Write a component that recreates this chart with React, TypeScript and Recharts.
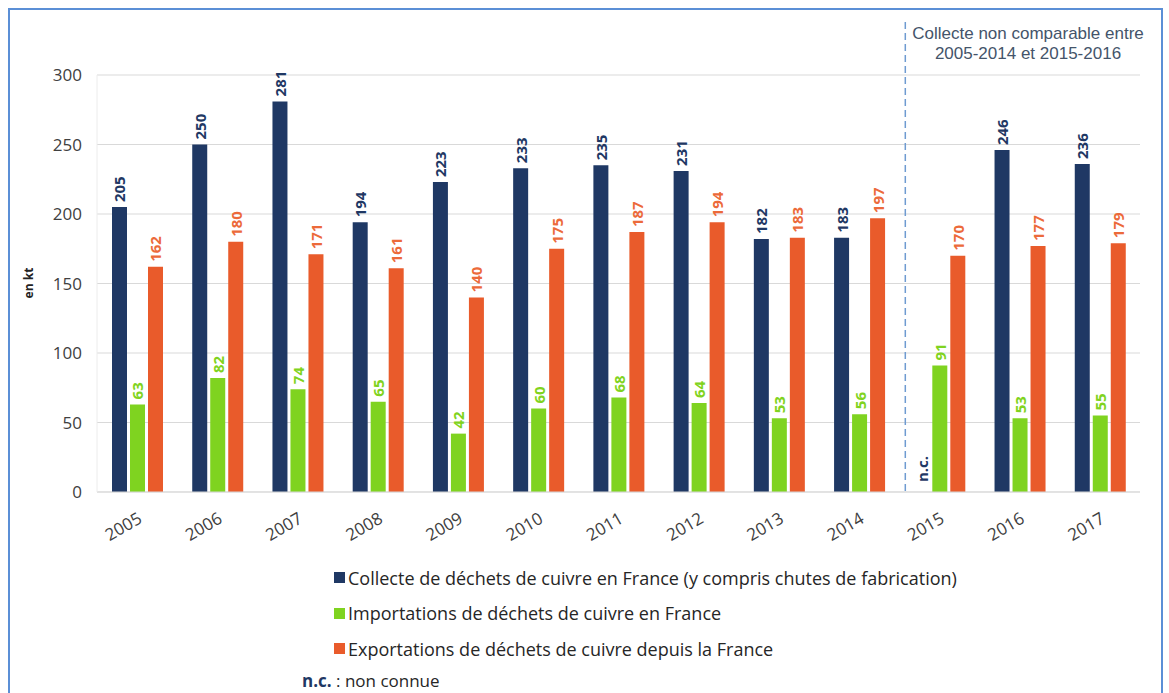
import {
  Bar,
  BarChart,
  CartesianGrid,
  LabelList,
  ReferenceLine,
  XAxis,
  YAxis,
} from 'recharts'

const years = ['2005', '2006', '2007', '2008', '2009', '2010', '2011', '2012', '2013', '2014', '2015', '2016', '2017']
const collecte = [205, 250, 281, 194, 223, 233, 235, 231, 182, 183, null, 246, 236]
const importations = [63, 82, 74, 65, 42, 60, 68, 64, 53, 56, 91, 53, 55]
const exportations = [162, 180, 171, 161, 140, 175, 187, 194, 183, 197, 170, 177, 179]
const yTicks = [0, 50, 100, 150, 200, 250, 300]

const series = [
  { key: 'collecte', name: 'Collecte de déchets de cuivre en France (y compris chutes de fabrication)', color: '#1f3864', label: '#1f3864' },
  { key: 'importations', name: 'Importations de déchets de cuivre en France', color: '#7fd320', label: '#7fd320' },
  { key: 'exportations', name: 'Exportations de déchets de cuivre depuis la France', color: '#e95b2b', label: '#ec6a3a' },
]

const data = years.map((year, i) => ({
  year,
  collecte: collecte[i],
  importations: importations[i],
  exportations: exportations[i],
}))

const FONT = '"Open Sans", "Noto Sans", sans-serif'
const BAR = 15
const GAP = 3

function makeLabel(color: string) {
  return function BarLabel(props: any) {
    const { x, y, width, value } = props
    if (value == null) return null
    const cx = Number(x) + Number(width) / 2
    const ty = Number(y) - 5
    return (
      <text
        x={cx}
        y={ty}
        transform={`rotate(-90 ${cx} ${ty})`}
        textAnchor="start"
        dominantBaseline="central"
        fill={color}
        fontSize={15}
        fontWeight={700}
        fontFamily={FONT}
      >
        {value}
      </text>
    )
  }
}

// "n.c." marker for the missing collecte value, drawn in the navy bar's slot
// (left neighbour of the green bar)
function NotKnownLabel(props: any) {
  const { x, y, width, height, value } = props
  if (value != null) return null
  const cx = Number(x) - GAP - BAR / 2
  const ty = Number(y) + Number(height) - 10
  return (
    <text
      x={cx}
      y={ty}
      transform={`rotate(-90 ${cx} ${ty})`}
      textAnchor="start"
      dominantBaseline="central"
      fill="#1f3864"
      fontSize={15}
      fontWeight={700}
      fontFamily={FONT}
    >
      n.c.
    </text>
  )
}

function YearTick({ x, y, payload }: any) {
  return (
    <text
      transform={`translate(${x + 6},${y + 22}) rotate(-30)`}
      textAnchor="end"
      fontSize={17}
      fill="#404040"
      fontFamily={FONT}
    >
      {payload.value}
    </text>
  )
}

function DashedDivider(props: any) {
  const { x1, y1, y2 } = props
  const bottom = Math.max(Number(y1), Number(y2))
  return <line x1={x1 + 6} x2={x1 + 6} y1={22} y2={bottom} stroke="#6f9bd1" strokeWidth={1.5} strokeDasharray="7 4" />
}

export default function App() {
  return (
    <div style={{ position: 'absolute', left: 0, top: 0, width: 1169, height: 693, background: '#fff', overflow: 'hidden' }}>
      <div
        style={{
          position: 'absolute',
          left: 8,
          top: 8,
          width: 1155,
          height: 720,
          border: '2px solid #5b8fd6',
          boxSizing: 'border-box',
        }}
      />
      <BarChart
        width={1169}
        height={693}
        data={data}
        margin={{ top: 75, right: 29, left: 0, bottom: 161 }}
        barSize={BAR}
        barGap={GAP}
        style={{ position: 'absolute', left: 0, top: 0 }}
      >
        <CartesianGrid vertical={false} stroke="#d9d9d9" />
        <XAxis
          dataKey="year"
          height={40}
          tick={<YearTick />}
          tickLine={false}
          axisLine={{ stroke: '#d9d9d9' }}
          interval={0}
        />
        <YAxis
          width={97}
          domain={[0, 300]}
          ticks={yTicks}
          tickLine={false}
          axisLine={{ stroke: '#ececec' }}
          tickMargin={9}
          tick={{ fontSize: 17, fill: '#404040', fontFamily: FONT }}
        />
        <ReferenceLine x="2015" position="start" shape={<DashedDivider />} ifOverflow="visible" />
        {series.map((s) => (
          <Bar key={s.key} dataKey={s.key} name={s.name} fill={s.color} isAnimationActive={false}>
            <LabelList dataKey={s.key} content={makeLabel(s.label)} />
            {s.key === 'importations' ? <LabelList dataKey="collecte" content={NotKnownLabel} /> : null}
          </Bar>
        ))}
        <text
          x={33}
          y={283}
          transform="rotate(-90 33 283)"
          textAnchor="middle"
          fontSize={12}
          fontWeight={700}
          fill="#222"
          fontFamily={FONT}
        >
          en kt
        </text>
        <text x={1028} y={39} textAnchor="middle" fontSize={17} fill="#44546a" fontFamily='"Liberation Sans", Arial, sans-serif'>
          Collecte non comparable entre
        </text>
        <text x={1028} y={59} textAnchor="middle" fontSize={17} fill="#44546a" fontFamily='"Liberation Sans", Arial, sans-serif'>
          2005-2014 et 2015-2016
        </text>
      </BarChart>
      <div style={{ position: 'absolute', left: 334, top: 560, fontFamily: FONT, fontSize: 18, color: '#262626' }}>
        {series.map((s) => (
          <div key={s.key} style={{ display: 'flex', alignItems: 'center', height: 35.5, whiteSpace: 'nowrap' }}>
            <span style={{ display: 'inline-block', width: 11, height: 11, background: s.color, marginRight: 3 }} />
            {s.name}
          </div>
        ))}
      </div>
      <div style={{ position: 'absolute', left: 302, top: 671, fontFamily: FONT, fontSize: 17, lineHeight: '20px', color: '#262626', whiteSpace: 'nowrap' }}>
        <span style={{ color: '#1f3864', fontWeight: 700 }}>n.c.</span> : non connue
      </div>
    </div>
  )
}
